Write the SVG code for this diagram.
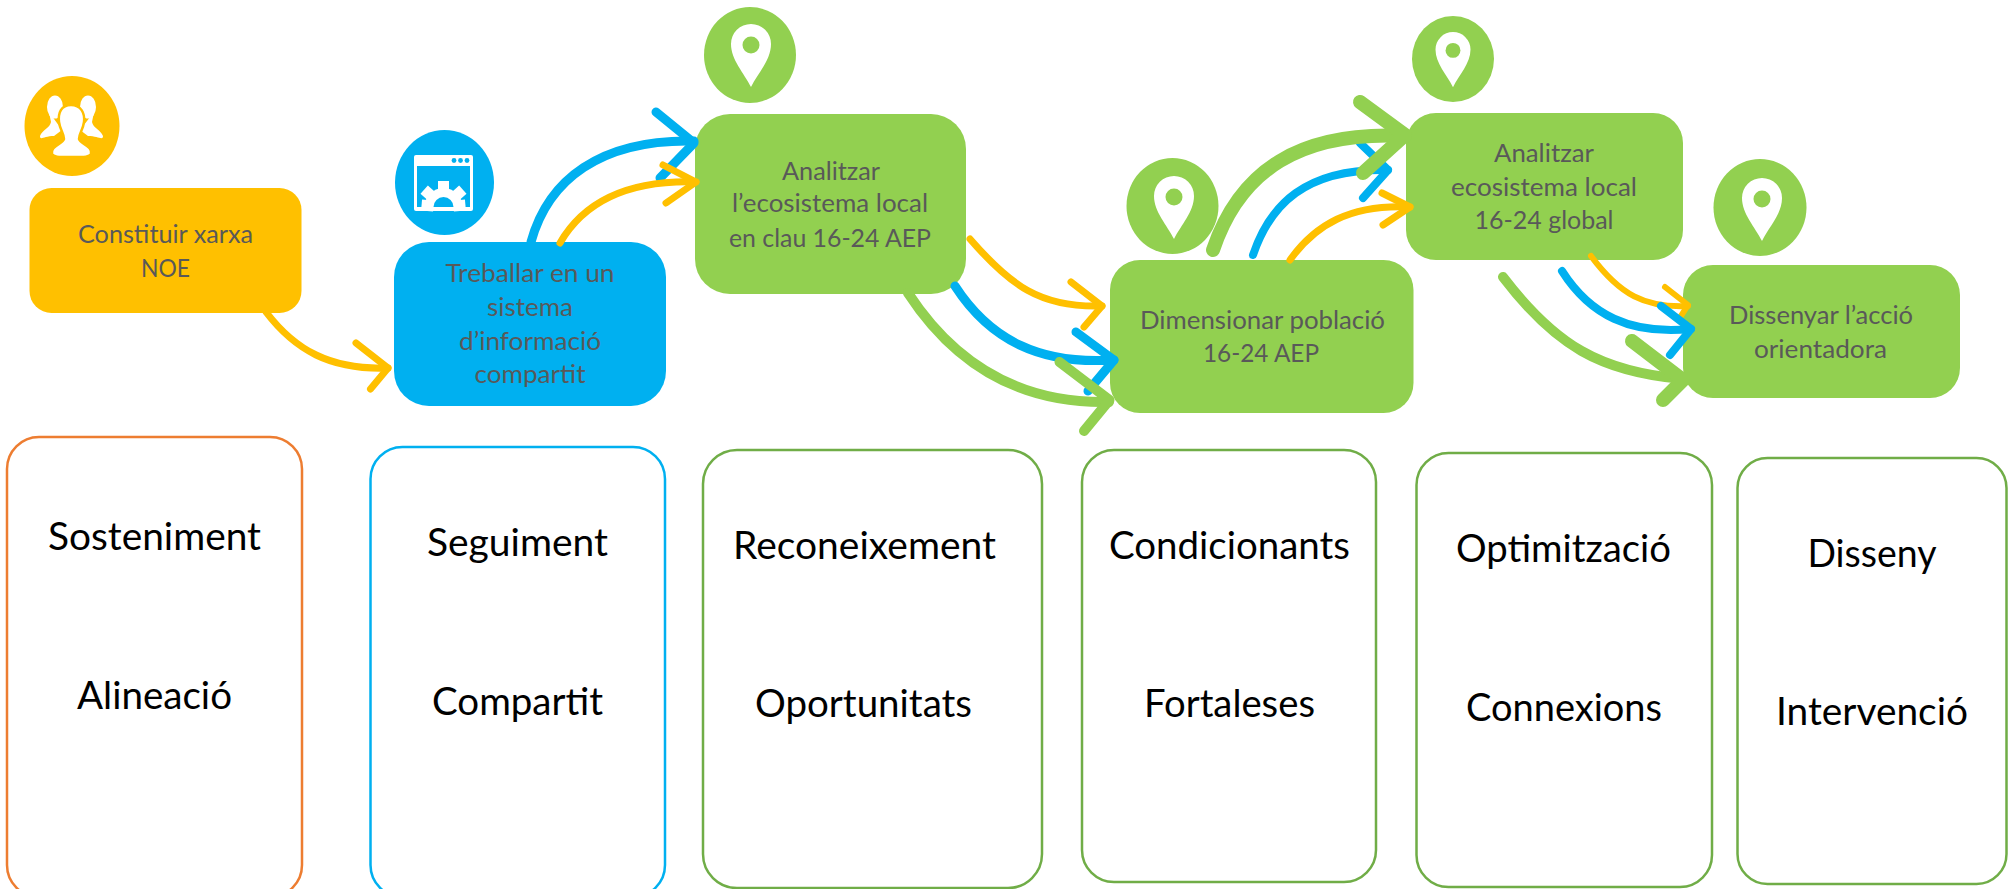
<svg xmlns="http://www.w3.org/2000/svg" xmlns:xlink="http://www.w3.org/1999/xlink" width="2010" height="889" viewBox="0 0 2010 889">
<style>
text{font-family:"Lato","Carlito","Open Sans","Liberation Sans",sans-serif;text-anchor:middle}
.s{font-size:25.5px;fill:#595959}
.b{font-size:39.5px;fill:#000}
.card{fill:#fff;stroke-width:2.5}
.or{fill:#FFC000}.bl{fill:#00B0F0}.gr{fill:#92D050}
.c{fill:none;stroke-linecap:round;stroke-linejoin:round}
.co{stroke:#FFC000}.cb{stroke:#00B0F0}.cg{stroke:#92D050}
.w6{stroke-width:6}.w7{stroke-width:7}.w8{stroke-width:8}.w9{stroke-width:9}.w10{stroke-width:10}.w14{stroke-width:14}
.wh{fill:#fff}
</style>
<defs>
<g id="pin"><path class="wh" d="M0 63C-7 49-20 36-20 20A20 20 0 0 1 20 20C20 36 7 49 0 63Z"/><circle class="gr" cx="0" cy="21" r="8.500"/></g>
</defs>
<rect width="2010" height="889" fill="#fff"/>

<g id="node-constituir">
<ellipse class="or" cx="72" cy="126" rx="47.500" ry="50"/>
<g class="wh">
<ellipse cx="55" cy="107" rx="8" ry="11.500"/><path d="M49 112L51 122C50 128 42 130 40 136C40 141 44 136 54 136L62 130Z"/>
<ellipse cx="88" cy="107" rx="8" ry="11.500"/><path d="M94 112L92 122C93 128 101 130 103 136C103 141 98 136 88 136L80 130Z"/>
</g>
<path class="wh" stroke="#FFC000" stroke-width="2.500" d="M71 105C61 105 58 113 59 122C60 130 64 133 64 139C63 144 50 146 52 154C53 157 58 157 71 157C85 157 90 157 91 154C93 146 80 144 79 139C79 133 83 130 84 122C85 113 81 105 71 105Z"/>
<rect class="or" x="29.500" y="188" width="272" height="125" rx="22"/>
<text class="s" x="165.500" y="243" textLength="175" lengthAdjust="spacingAndGlyphs">Constituir xarxa</text>
<text class="s" x="165.500" y="277" textLength="49" lengthAdjust="spacingAndGlyphs">NOE</text>
</g>

<g id="node-treballar">
<ellipse class="bl" cx="444.500" cy="182.500" rx="49.500" ry="52.500"/>
<rect class="wh" x="414" y="155" width="59" height="56" rx="2"/>
<rect class="bl" x="417" y="166" width="53" height="41"/>
<g class="bl"><circle cx="454" cy="160.500" r="2.400"/><circle cx="460.500" cy="160.500" r="2.400"/><circle cx="467" cy="160.500" r="2.400"/></g>
<g class="wh">
<path d="M424.500 207A19 19 0 0 1 462.500 207Z"/>
<rect x="438" y="181" width="11" height="12"/>
<rect x="438" y="181" width="11" height="12" transform="rotate(-48 443.500 207)"/>
<rect x="438" y="181" width="11" height="12" transform="rotate(48 443.500 207)"/>
<rect x="438" y="185" width="11" height="12" transform="rotate(-85 443.500 207)"/>
<rect x="438" y="185" width="11" height="12" transform="rotate(85 443.500 207)"/>
</g>
<path class="bl" d="M433.500 207A10 10 0 0 1 453.500 207Z"/>
<rect class="bl" x="394" y="242" width="272" height="164" rx="35"/>
<text class="s" x="530" y="282" textLength="169" lengthAdjust="spacingAndGlyphs">Treballar en un</text>
<text class="s" x="530" y="316" textLength="86" lengthAdjust="spacingAndGlyphs">sistema</text>
<text class="s" x="530" y="350" textLength="142" lengthAdjust="spacingAndGlyphs">d’informació</text>
<text class="s" x="530" y="383" textLength="111" lengthAdjust="spacingAndGlyphs">compartit</text>
</g>

<g id="node-analitzar-clau">
<ellipse class="gr" cx="750" cy="55" rx="46" ry="48"/>
<use xlink:href="#pin" href="#pin" transform="translate(751 24)"/>
<rect class="gr" x="695" y="114" width="271" height="180" rx="35"/>
<text class="s" x="831" y="180" textLength="98" lengthAdjust="spacingAndGlyphs">Analitzar</text>
<text class="s" x="830" y="212" textLength="196" lengthAdjust="spacingAndGlyphs">l’ecosistema local</text>
<text class="s" x="830" y="247" textLength="202" lengthAdjust="spacingAndGlyphs">en clau 16-24 AEP</text>
</g>

<g id="node-dimensionar">
<ellipse class="gr" cx="1172.500" cy="206" rx="46" ry="48"/>
<use xlink:href="#pin" href="#pin" transform="translate(1174 176)"/>
<rect class="gr" x="1110" y="260" width="303.500" height="153" rx="30"/>
<text class="s" x="1262.500" y="329" textLength="245" lengthAdjust="spacingAndGlyphs">Dimensionar població</text>
<text class="s" x="1261" y="362" textLength="116" lengthAdjust="spacingAndGlyphs">16-24 AEP</text>
</g>

<g id="node-analitzar-global">
<ellipse class="gr" cx="1453" cy="59" rx="41" ry="43"/>
<use xlink:href="#pin" href="#pin" transform="translate(1453 32) scale(.875)"/>
<rect class="gr" x="1406" y="113" width="277" height="147" rx="30"/>
<text class="s" x="1544" y="162" textLength="100" lengthAdjust="spacingAndGlyphs">Analitzar</text>
<text class="s" x="1544" y="196" textLength="186" lengthAdjust="spacingAndGlyphs">ecosistema local</text>
<text class="s" x="1544" y="229" textLength="139" lengthAdjust="spacingAndGlyphs">16-24 global</text>
</g>

<g id="node-dissenyar">
<ellipse class="gr" cx="1760" cy="207.500" rx="46.500" ry="48.500"/>
<use xlink:href="#pin" href="#pin" transform="translate(1762 178)"/>
<rect class="gr" x="1683" y="265" width="277" height="133" rx="30"/>
<text class="s" x="1821" y="324" textLength="184" lengthAdjust="spacingAndGlyphs">Dissenyar l’acció</text>
<text class="s" x="1820.500" y="358" textLength="133" lengthAdjust="spacingAndGlyphs">orientadora</text>
</g>

<g id="card-sosteniment">
<rect class="card" stroke="#ED7D31" x="7" y="437" width="295" height="460" rx="32"/>
<text class="b" x="154.500" y="550" textLength="213" lengthAdjust="spacingAndGlyphs">Sosteniment</text>
<text class="b" x="154.500" y="709" textLength="155" lengthAdjust="spacingAndGlyphs">Alineació</text>
</g>
<g id="card-seguiment">
<rect class="card" stroke="#00B0F0" x="370.500" y="447" width="294.500" height="450" rx="32"/>
<text class="b" x="517.500" y="556" textLength="181" lengthAdjust="spacingAndGlyphs">Seguiment</text>
<text class="b" x="517.500" y="715" textLength="171" lengthAdjust="spacingAndGlyphs">Compartit</text>
</g>
<g id="card-reconeixement">
<rect class="card" stroke="#70AD47" x="703" y="450" width="339" height="438" rx="34"/>
<text class="b" x="864.500" y="559" textLength="263" lengthAdjust="spacingAndGlyphs">Reconeixement</text>
<text class="b" x="863.500" y="717" textLength="217" lengthAdjust="spacingAndGlyphs">Oportunitats</text>
</g>
<g id="card-condicionants">
<rect class="card" stroke="#70AD47" x="1082" y="450" width="294" height="432" rx="32"/>
<text class="b" x="1229.500" y="559" textLength="241" lengthAdjust="spacingAndGlyphs">Condicionants</text>
<text class="b" x="1229.500" y="717" textLength="171" lengthAdjust="spacingAndGlyphs">Fortaleses</text>
</g>
<g id="card-optimitzacio">
<rect class="card" stroke="#70AD47" x="1416.500" y="453" width="295.500" height="434" rx="32"/>
<text class="b" x="1563.500" y="562" textLength="215" lengthAdjust="spacingAndGlyphs">Optimització</text>
<text class="b" x="1564" y="721" textLength="196" lengthAdjust="spacingAndGlyphs">Connexions</text>
</g>
<g id="card-disseny">
<rect class="card" stroke="#70AD47" x="1737.500" y="458" width="269" height="426" rx="30"/>
<text class="b" x="1872" y="567" textLength="129" lengthAdjust="spacingAndGlyphs">Disseny</text>
<text class="b" x="1872" y="725" textLength="192" lengthAdjust="spacingAndGlyphs">Intervenció</text>
</g>

<g id="connectors">
<g class="c co w7"><path d="M266 312C295 350 330 370 388 368"/><path d="M356 343L388 368L370.500 389"/></g>
<g class="c cb w9"><path d="M531 242C548 180 600 139 694 141"/><path d="M656 112L694 143L660 178"/></g>
<g class="c co w7"><path d="M560 243C585 200 630 180 696 182"/><path d="M663 165L696 182L666 203"/></g>

<g class="c co w7"><path d="M970 239C1010 285 1040 308 1102 306"/><path d="M1071 282L1102 306L1084 327"/></g>
<g class="c cb w9"><path d="M955 286C990 340 1040 365 1114 360"/><path d="M1076 332L1114 360L1088 391"/></g>
<g class="c cg w10"><path d="M908 293C955 365 1020 404 1109 402"/><path d="M1059.500 362L1109.500 400L1084 431"/></g>

<g class="c cb w8"><path d="M1253 255C1270 205 1305 168 1388 170"/><path d="M1360 143L1388 170L1363 198"/></g>
<g class="c co w7"><path d="M1290 260C1315 225 1350 204 1410 207"/><path d="M1382 193L1410 207L1383 225"/></g>
<g class="c cg w14"><path d="M1213 250C1240 170 1300 131 1405 136"/><path d="M1360 102L1405 135L1363 173"/></g>

<g class="c co w6"><path d="M1591 256C1620 295 1645 308 1688 306"/><path d="M1665 287L1688 305L1679 319"/></g>
<g class="c cg w10"><path d="M1503 277C1555 345 1600 372 1683 379"/></g>
<g class="c cg w14"><path d="M1632 341L1683 380L1663 400"/></g>
<g class="c cb w8"><path d="M1562 271C1590 315 1630 335 1691 329"/><path d="M1661 306L1691 329L1670 355"/></g>
</g>
</svg>
